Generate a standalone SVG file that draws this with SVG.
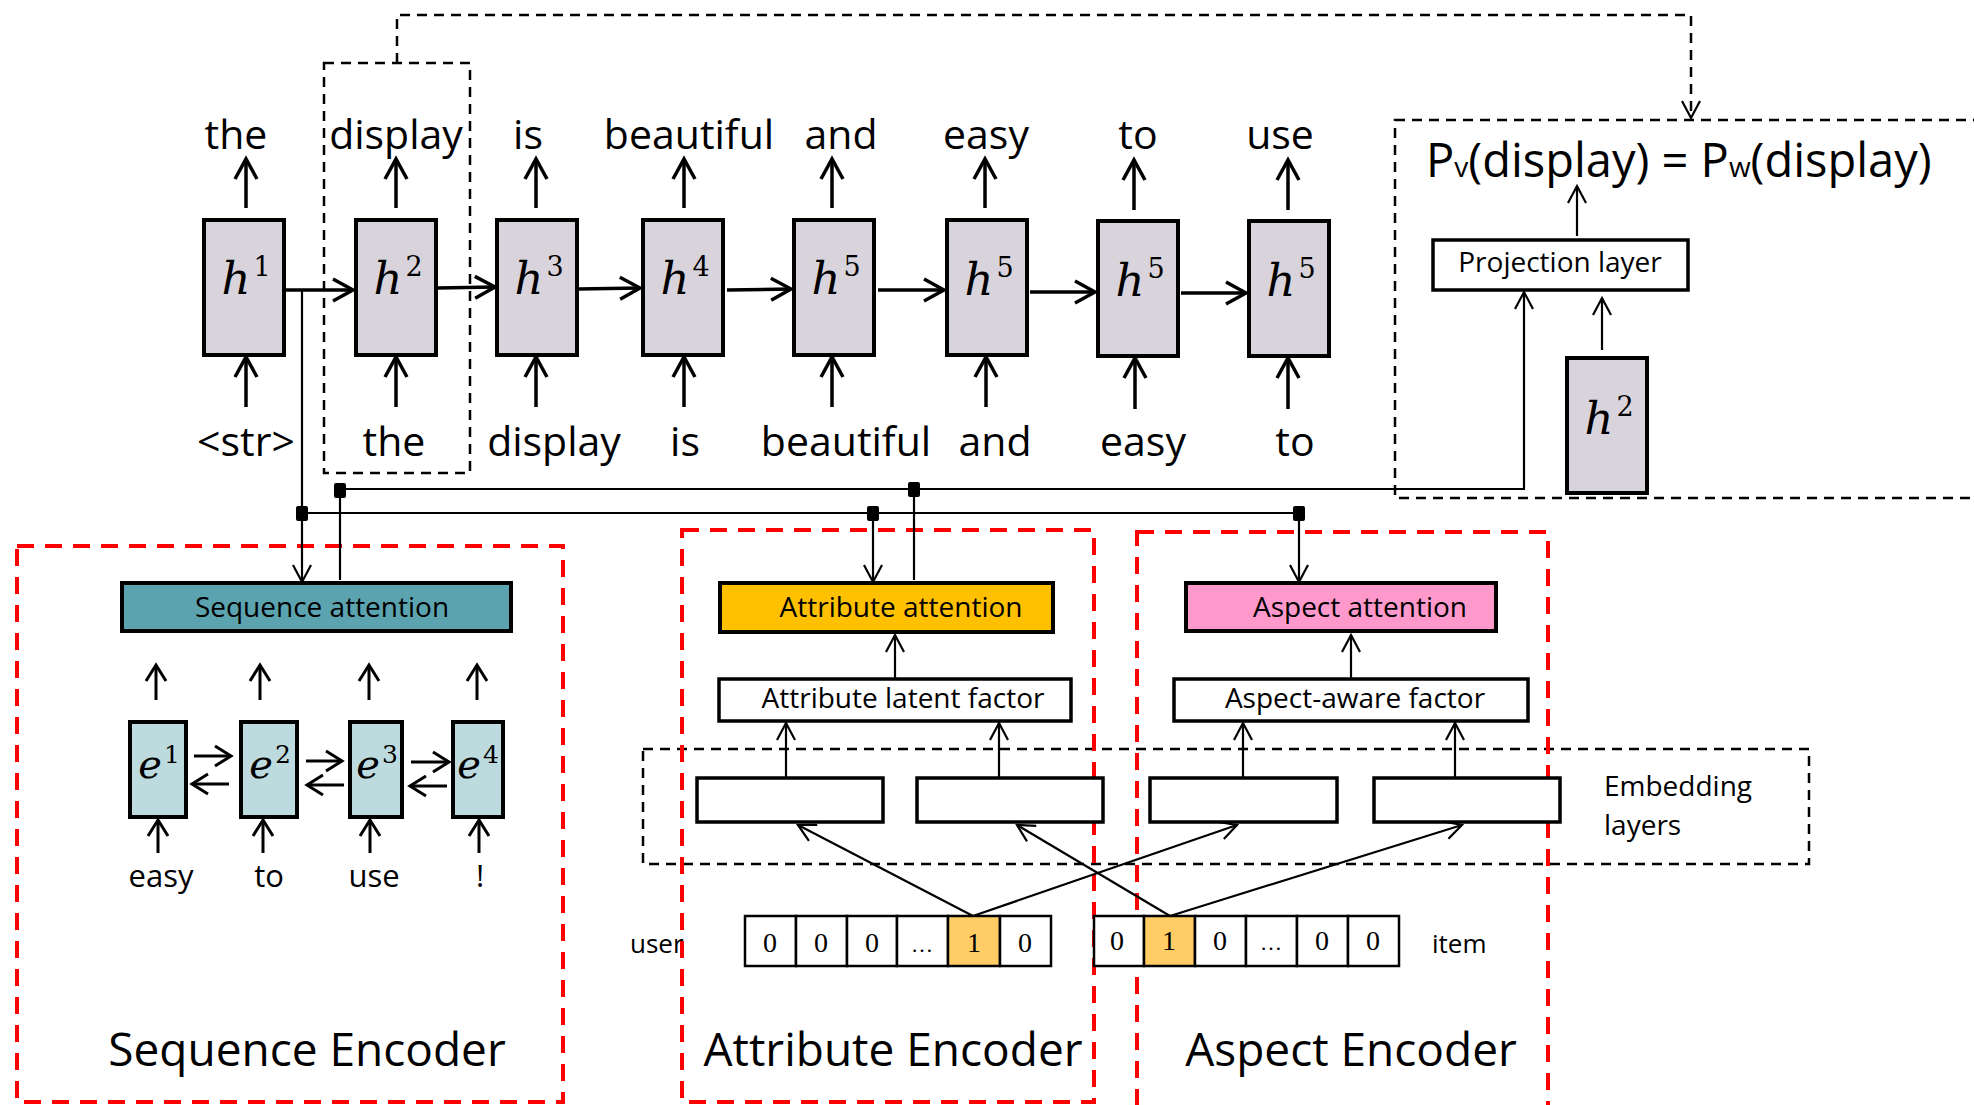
<svg xmlns="http://www.w3.org/2000/svg" width="1974" height="1105" viewBox="0 0 1974 1105">
<style>
.t{font-family:"Open Sans","Liberation Sans",sans-serif;fill:#000}
.m{font-family:"Liberation Serif",serif;fill:#000}
.v{font-family:"DejaVu Serif","Liberation Serif",serif;fill:#000}
.hb{fill:#D9D4DC;stroke:#000;stroke-width:4}
.eb{fill:#BDDBDF;stroke:#000;stroke-width:4}
.box{fill:#fff;stroke:#000;stroke-width:3.5}
.cell{fill:#fff;stroke:#000;stroke-width:2.5}
.on{fill:#FFCC66}
.thick{stroke:#000;stroke-width:3.5;fill:none;marker-end:url(#ak)}
.med{stroke:#000;stroke-width:3;fill:none;marker-end:url(#am)}
.thin{stroke:#000;stroke-width:2.2;fill:none}
.ta{marker-end:url(#at)}
.dash{stroke:#000;stroke-width:2.5;fill:none;stroke-dasharray:10 7}
.red{stroke:#F00;stroke-width:4;fill:none;stroke-dasharray:17 11}
.jn{fill:#000}
</style>
<defs>
<marker id="ak" viewBox="-26 -15 30 30" markerWidth="30" markerHeight="30" refX="0" refY="0" orient="auto" markerUnits="userSpaceOnUse"><path d="M-20,-11 L0,0 L-20,11" fill="none" stroke="#000" stroke-width="3.5"/></marker>
<marker id="am" viewBox="-26 -15 30 30" markerWidth="30" markerHeight="30" refX="0" refY="0" orient="auto" markerUnits="userSpaceOnUse"><path d="M-16,-10 L0,0 L-16,10" fill="none" stroke="#000" stroke-width="3"/></marker>
<marker id="at" viewBox="-26 -15 30 30" markerWidth="30" markerHeight="30" refX="0" refY="0" orient="auto" markerUnits="userSpaceOnUse"><path d="M-17,-9 L0,0 L-17,9" fill="none" stroke="#000" stroke-width="2.2"/></marker>
</defs>

<!-- region frames -->
<g id="frames">
<rect class="dash" x="324" y="63" width="146" height="410"/>
<rect class="dash" x="1395" y="120" width="600" height="378"/>
<rect class="dash" x="643" y="749" width="1166" height="115"/>
<rect class="red" x="17" y="546" width="546" height="556"/>
<rect class="red" x="682" y="530" width="412" height="572"/>
<rect class="red" x="1137" y="532" width="411" height="590"/>
</g>

<!-- decoder hidden states -->
<g id="h1"><rect class="hb" x="204" y="220" width="80" height="135"/><text class="v" x="246" y="294" font-size="45" text-anchor="middle"><tspan font-style="italic">h</tspan><tspan font-size="27" dx="3" dy="-18">1</tspan></text></g>
<g id="h2"><rect class="hb" x="356" y="220" width="80" height="135"/><text class="v" x="398" y="294" font-size="45" text-anchor="middle"><tspan font-style="italic">h</tspan><tspan font-size="27" dx="3" dy="-18">2</tspan></text></g>
<g id="h3"><rect class="hb" x="497" y="220" width="80" height="135"/><text class="v" x="539" y="294" font-size="45" text-anchor="middle"><tspan font-style="italic">h</tspan><tspan font-size="27" dx="3" dy="-18">3</tspan></text></g>
<g id="h4"><rect class="hb" x="643" y="220" width="80" height="135"/><text class="v" x="685" y="294" font-size="45" text-anchor="middle"><tspan font-style="italic">h</tspan><tspan font-size="27" dx="3" dy="-18">4</tspan></text></g>
<g id="h5a"><rect class="hb" x="794" y="220" width="80" height="135"/><text class="v" x="836" y="294" font-size="45" text-anchor="middle"><tspan font-style="italic">h</tspan><tspan font-size="27" dx="3" dy="-18">5</tspan></text></g>
<g id="h5b"><rect class="hb" x="947" y="220" width="80" height="135"/><text class="v" x="989" y="295" font-size="45" text-anchor="middle"><tspan font-style="italic">h</tspan><tspan font-size="27" dx="3" dy="-18">5</tspan></text></g>
<g id="h5c"><rect class="hb" x="1098" y="221" width="80" height="135"/><text class="v" x="1140" y="296" font-size="45" text-anchor="middle"><tspan font-style="italic">h</tspan><tspan font-size="27" dx="3" dy="-18">5</tspan></text></g>
<g id="h5d"><rect class="hb" x="1249" y="221" width="80" height="135"/><text class="v" x="1291" y="296" font-size="45" text-anchor="middle"><tspan font-style="italic">h</tspan><tspan font-size="27" dx="3" dy="-18">5</tspan></text></g>

<g id="outputs" class="t" font-size="41" text-anchor="middle">
<text x="236" y="149">the</text>
<text x="396" y="149">display</text>
<text x="528" y="149">is</text>
<text x="689" y="149">beautiful</text>
<text x="841" y="149">and</text>
<text x="986" y="149">easy</text>
<text x="1138" y="149">to</text>
<text x="1280" y="149">use</text>
</g>
<g id="inputs" class="t" font-size="41" text-anchor="middle">
<text x="246" y="456">&lt;str&gt;</text>
<text x="394" y="456">the</text>
<text x="554" y="456">display</text>
<text x="685" y="456">is</text>
<text x="846" y="456">beautiful</text>
<text x="995" y="456">and</text>
<text x="1143" y="456">easy</text>
<text x="1295" y="456">to</text>
</g>

<!-- projection -->
<g id="equation"><text class="t" x="1426" y="177" font-size="47">P<tspan font-size="28">v</tspan>(display) = P<tspan font-size="28">w</tspan>(display)</text></g>
<g id="projection"><rect class="box" x="1433" y="240" width="255" height="50"/><text class="t" x="1560" y="272" font-size="28" text-anchor="middle">Projection layer</text></g>
<g id="h2p"><rect class="hb" x="1567" y="358" width="80" height="135"/><text class="v" x="1609" y="434" font-size="45" text-anchor="middle"><tspan font-style="italic">h</tspan><tspan font-size="27" dx="3" dy="-18">2</tspan></text></g>

<!-- sequence encoder -->
<g id="seqatt"><rect x="122" y="583" width="389" height="48" fill="#5BA3AE" stroke="#000" stroke-width="4"/><text class="t" x="322" y="617" font-size="28" text-anchor="middle">Sequence attention</text></g>
<g id="e1"><rect class="eb" x="130" y="722" width="56" height="95"/><text class="v" x="159" y="778" font-size="40" text-anchor="middle"><tspan font-style="italic">e</tspan><tspan font-size="25" dx="2" dy="-15">1</tspan></text></g>
<g id="e2"><rect class="eb" x="241" y="722" width="56" height="95"/><text class="v" x="270" y="778" font-size="40" text-anchor="middle"><tspan font-style="italic">e</tspan><tspan font-size="25" dx="2" dy="-15">2</tspan></text></g>
<g id="e3"><rect class="eb" x="350" y="722" width="52" height="95"/><text class="v" x="377" y="778" font-size="40" text-anchor="middle"><tspan font-style="italic">e</tspan><tspan font-size="25" dx="2" dy="-15">3</tspan></text></g>
<g id="e4"><rect class="eb" x="453" y="722" width="50" height="95"/><text class="v" x="478" y="778" font-size="40" text-anchor="middle"><tspan font-style="italic">e</tspan><tspan font-size="25" dx="2" dy="-15">4</tspan></text></g>
<g id="seqwords" class="t" font-size="31" text-anchor="middle">
<text x="161" y="887">easy</text>
<text x="269" y="887">to</text>
<text x="374" y="887">use</text>
<text x="480" y="887">!</text>
</g>
<g id="seqtitle"><text class="t" x="307" y="1066" font-size="46" text-anchor="middle">Sequence Encoder</text></g>

<!-- attribute encoder -->
<g id="attatt"><rect x="720" y="583" width="333" height="49" fill="#FFC000" stroke="#000" stroke-width="4"/><text class="t" x="901" y="617" font-size="28" text-anchor="middle">Attribute attention</text></g>
<g id="attlat"><rect class="box" x="719" y="679" width="352" height="42"/><text class="t" x="903" y="708" font-size="28" text-anchor="middle">Attribute latent factor</text></g>
<g id="atttitle"><text class="t" x="893" y="1066" font-size="46" text-anchor="middle">Attribute Encoder</text></g>

<!-- aspect encoder -->
<g id="aspatt"><rect x="1186" y="583" width="310" height="48" fill="#FF99CC" stroke="#000" stroke-width="4"/><text class="t" x="1360" y="617" font-size="28" text-anchor="middle">Aspect attention</text></g>
<g id="aspfac"><rect class="box" x="1174" y="679" width="354" height="42"/><text class="t" x="1355" y="708" font-size="28" text-anchor="middle">Aspect-aware factor</text></g>
<g id="asptitle"><text class="t" x="1351" y="1066" font-size="46" text-anchor="middle">Aspect Encoder</text></g>

<!-- embeddings -->
<g id="emb1"><rect class="box" x="697" y="778" width="186" height="44"/></g>
<g id="emb2"><rect class="box" x="917" y="778" width="186" height="44"/></g>
<g id="emb3"><rect class="box" x="1150" y="778" width="187" height="44"/></g>
<g id="emb4"><rect class="box" x="1374" y="778" width="186" height="44"/></g>
<g id="emblabel" class="t" font-size="28"><text x="1604" y="796">Embedding</text><text x="1604" y="835">layers</text></g>

<!-- one-hot vectors -->
<g id="user">
<text class="t" x="630" y="953" font-size="26">user</text>
<rect class="cell" x="745" y="916" width="51" height="50"/>
<rect class="cell" x="796" y="916" width="51" height="50"/>
<rect class="cell" x="847" y="916" width="50" height="50"/>
<rect class="cell" x="897" y="916" width="51" height="50"/>
<rect class="cell on" x="948" y="916" width="52" height="50"/>
<rect class="cell" x="1000" y="916" width="51" height="50"/>
<g class="m" font-size="28" text-anchor="middle"><text x="770" y="952">0</text><text x="821" y="952">0</text><text x="872" y="952">0</text><text x="922" y="952" font-size="22">…</text><text x="974" y="952">1</text><text x="1025" y="952">0</text></g>
</g>
<g id="item">
<text class="t" x="1432" y="953" font-size="26">item</text>
<rect class="cell" x="1094" y="916" width="50" height="50"/>
<rect class="cell on" x="1144" y="916" width="51" height="50"/>
<rect class="cell" x="1195" y="916" width="51" height="50"/>
<rect class="cell" x="1246" y="916" width="51" height="50"/>
<rect class="cell" x="1297" y="916" width="51" height="50"/>
<rect class="cell" x="1348" y="916" width="51" height="50"/>
<g class="m" font-size="28" text-anchor="middle"><text x="1117" y="950">0</text><text x="1169" y="950">1</text><text x="1220" y="950">0</text><text x="1271" y="950" font-size="22">…</text><text x="1322" y="950">0</text><text x="1373" y="950">0</text></g>
</g>

<g id="connectors">
<path class="dash" d="M397,63 V15 H1691 V118" marker-end="url(#at)"/>
<line class="thick" x1="246" y1="208" x2="246" y2="159"/>
<line class="thick" x1="396" y1="208" x2="396" y2="159"/>
<line class="thick" x1="536" y1="208" x2="536" y2="159"/>
<line class="thick" x1="684" y1="208" x2="684" y2="159"/>
<line class="thick" x1="832" y1="208" x2="832" y2="159"/>
<line class="thick" x1="985" y1="208" x2="985" y2="159"/>
<line class="thick" x1="1134" y1="210" x2="1134" y2="160"/>
<line class="thick" x1="1288" y1="210" x2="1288" y2="160"/>
<line class="thick" x1="246" y1="407" x2="246" y2="357"/>
<line class="thick" x1="396" y1="407" x2="396" y2="357"/>
<line class="thick" x1="536" y1="407" x2="536" y2="357"/>
<line class="thick" x1="684" y1="407" x2="684" y2="357"/>
<line class="thick" x1="832" y1="407" x2="832" y2="357"/>
<line class="thick" x1="986" y1="407" x2="986" y2="357"/>
<line class="thick" x1="1135" y1="409" x2="1135" y2="358"/>
<line class="thick" x1="1288" y1="409" x2="1288" y2="358"/>
<line class="thick" x1="286" y1="290" x2="353" y2="290"/>
<line class="thick" x1="437" y1="288" x2="495" y2="287"/>
<line class="thick" x1="578" y1="289" x2="640" y2="288"/>
<line class="thick" x1="727" y1="290" x2="791" y2="289"/>
<line class="thick" x1="878" y1="290" x2="944" y2="290"/>
<line class="thick" x1="1030" y1="292" x2="1095" y2="292"/>
<line class="thick" x1="1181" y1="293" x2="1246" y2="293"/>
<path class="thin ta" d="M302,290 V582"/>
<path class="thin" d="M302,513 H1299"/>
<path class="thin ta" d="M873,513 V582"/>
<path class="thin ta" d="M1299,513 V582"/>
<path class="thin" d="M340,580 V489"/>
<path class="thin" d="M914,580 V489"/>
<path class="thin ta" d="M340,489 H1524 V292"/>
<rect class="jn" x="296" y="506" width="12" height="15" rx="2"/>
<rect class="jn" x="334" y="483" width="12" height="15" rx="2"/>
<rect class="jn" x="908" y="482" width="12" height="15" rx="2"/>
<rect class="jn" x="867" y="506" width="12" height="15" rx="2"/>
<rect class="jn" x="1293" y="506" width="12" height="15" rx="2"/>
<line class="thin ta" x1="1602" y1="350" x2="1602" y2="298"/>
<line class="thin ta" x1="1577" y1="236" x2="1577" y2="186"/>
<line class="med" x1="156" y1="700" x2="156" y2="665"/>
<line class="med" x1="260" y1="700" x2="260" y2="665"/>
<line class="med" x1="369" y1="700" x2="369" y2="665"/>
<line class="med" x1="477" y1="700" x2="477" y2="665"/>
<line class="med" x1="158" y1="853" x2="158" y2="820"/>
<line class="med" x1="263" y1="853" x2="263" y2="820"/>
<line class="med" x1="370" y1="853" x2="370" y2="820"/>
<line class="med" x1="479" y1="853" x2="479" y2="820"/>
<line class="med" x1="194" y1="756" x2="231" y2="756"/>
<line class="med" x1="229" y1="784" x2="192" y2="784"/>
<line class="med" x1="306" y1="761" x2="342" y2="761"/>
<line class="med" x1="344" y1="785" x2="307" y2="785"/>
<line class="med" x1="411" y1="762" x2="449" y2="762"/>
<line class="med" x1="447" y1="786" x2="410" y2="786"/>
<line class="thin ta" x1="895" y1="678" x2="895" y2="635"/>
<line class="thin ta" x1="1351" y1="678" x2="1351" y2="635"/>
<line class="thin ta" x1="786" y1="777" x2="786" y2="723"/>
<line class="thin ta" x1="999" y1="777" x2="999" y2="723"/>
<line class="thin ta" x1="1243" y1="777" x2="1243" y2="723"/>
<line class="thin ta" x1="1455" y1="777" x2="1455" y2="723"/>
<line class="thin ta" x1="973" y1="916" x2="798" y2="825"/>
<line class="thin ta" x1="973" y1="916" x2="1237" y2="825"/>
<line class="thin ta" x1="1170" y1="916" x2="1017" y2="825"/>
<line class="thin ta" x1="1170" y1="916" x2="1462" y2="825"/>
</g>
</svg>
